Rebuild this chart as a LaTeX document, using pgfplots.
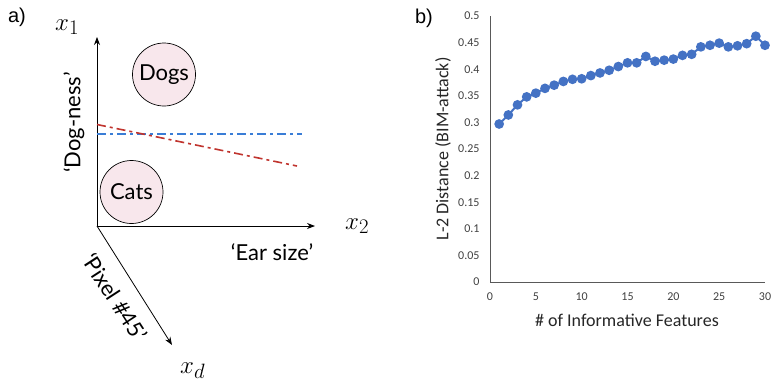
\documentclass[border=0pt]{standalone}
\usepackage{fontspec}
\setmainfont{Carlito}
\newfontfamily\gill{Lato}
\newfontfamily\arial{Liberation Sans}
\usepackage{pgfplots}
\pgfplotsset{compat=1.18}
\usetikzlibrary{arrows.meta}
\definecolor{xlblue}{HTML}{4472C4}
\definecolor{lineblue}{HTML}{3A7DD6}
\definecolor{linered}{HTML}{C0342E}
\definecolor{pinkf}{HTML}{F8E7EC}
\definecolor{tickgray}{HTML}{404040}
\begin{document}
\begin{tikzpicture}
\path[use as bounding box] (0pt,0pt) rectangle (771pt,-378pt);
% ---------------- panel a ----------------
\begin{axis}[at={(0pt,-378pt)}, anchor=south west, scale only axis,
  width=771pt, height=378pt, xmin=0, xmax=771, ymin=-378, ymax=0,
  hide axis, clip=false]
\addplot[black, line width=0.8pt, -{Stealth[length=8pt,width=6pt]}] coordinates {(97,-226) (97,-37)};
\addplot[black, line width=0.8pt, -{Stealth[length=8pt,width=6pt]}] coordinates {(97,-226) (315,-226)};
\addplot[black, line width=0.8pt, -{Stealth[length=8pt,width=6pt]}] coordinates {(97,-226) (172,-345)};
\addplot[draw=lineblue, line width=2pt, dash pattern=on 9pt off 4pt on 3pt off 4pt] coordinates {(97,-133.5) (302,-133.5)};
\addplot[draw=linered, line width=1.6pt, dash pattern=on 9pt off 4pt on 3pt off 4pt] coordinates {(97,-124.5) (297,-166)};
\addplot[only marks, mark=*, mark size=31.5pt, mark options={draw=black, fill=pinkf, line width=0.7pt},
  point meta=explicit symbolic, nodes near coords,
  nodes near coords style={anchor=center, font=\gill\fontsize{22}{26}\selectfont, text=black}]
  coordinates {(164,-74.5) [Dogs] (131.5,-192) [Cats]};
\node[font=\gill\fontsize{22}{26}\selectfont, rotate=90, anchor=west, inner sep=0pt] at (axis cs:74,-173) {‘Dog-ness’};
\node[font=\gill\fontsize{22}{26}\selectfont] at (axis cs:272,-252) {‘Ear size’};
\node[font=\gill\fontsize{22}{26}\selectfont, rotate=-57] at (axis cs:115,-297) {‘Pixel \#45’};
\node[font=\fontsize{30}{34}\selectfont, anchor=base west, inner sep=0pt] at (axis cs:55,-30) {$x_1$};
\node[font=\fontsize{30}{34}\selectfont, anchor=base west, inner sep=0pt] at (axis cs:345,-229) {$x_2$};
\node[font=\fontsize{30}{34}\selectfont, anchor=base west, inner sep=0pt] at (axis cs:180,-373) {$x_d$};
\node[font=\arial\fontsize{20}{24}\selectfont] at (axis cs:17,-17) {a)};
\node[font=\arial\fontsize{20}{24}\selectfont] at (axis cs:424,-18) {b)};
\end{axis}
% ---------------- panel b ----------------
\begin{axis}[at={(490pt,-282pt)}, anchor=south west, scale only axis,
  width=275pt, height=266pt, xmin=0, xmax=30, ymin=0, ymax=0.5,
  axis lines=left, axis line style={-, black!65, line width=0.9pt},
  xtick={0,5,10,15,20,25,30},
  ytick={0,0.05,0.1,0.15,0.2,0.25,0.3,0.35,0.4,0.45,0.5},
  yticklabels={0,0.05,0.1,0.15,0.2,0.25,0.3,0.35,0.4,0.45,0.5},
  xticklabels={0,5,10,15,20,25,30},
  /pgf/number format/assume math mode=true,
  major tick length=0pt, tick style={draw=none},
  tick label style={font=\fontsize{12}{14}\selectfont, text=tickgray},
  yticklabel style={xshift=-7pt},
  xticklabel style={yshift=-7pt},
  xlabel={\# of Informative Features},
  ylabel={L-2 Distance (BIM-attack)},
  label style={font=\fontsize{18}{21}\selectfont, text=black!85},
  xlabel style={at={(axis description cs:0.498,-0.143)}, anchor=center},
  ylabel style={at={(axis description cs:-0.171,0.5)}, anchor=center},
  clip=false]
\addplot[xlblue, line width=2pt, mark=*, mark size=3.8pt, mark options={fill=xlblue, draw=xlblue}] coordinates {
(1,0.297) (2,0.314) (3,0.333) (4,0.348) (5,0.355) (6,0.364) (7,0.370) (8,0.377) (9,0.381) (10,0.382)
(11,0.388) (12,0.393) (13,0.398) (14,0.405) (15,0.412) (16,0.412) (17,0.424) (18,0.415) (19,0.417) (20,0.419)
(21,0.426) (22,0.428) (23,0.442) (24,0.445) (25,0.449) (26,0.442) (27,0.444) (28,0.448) (29,0.462) (30,0.445)
};
\end{axis}
\end{tikzpicture}
\end{document}
